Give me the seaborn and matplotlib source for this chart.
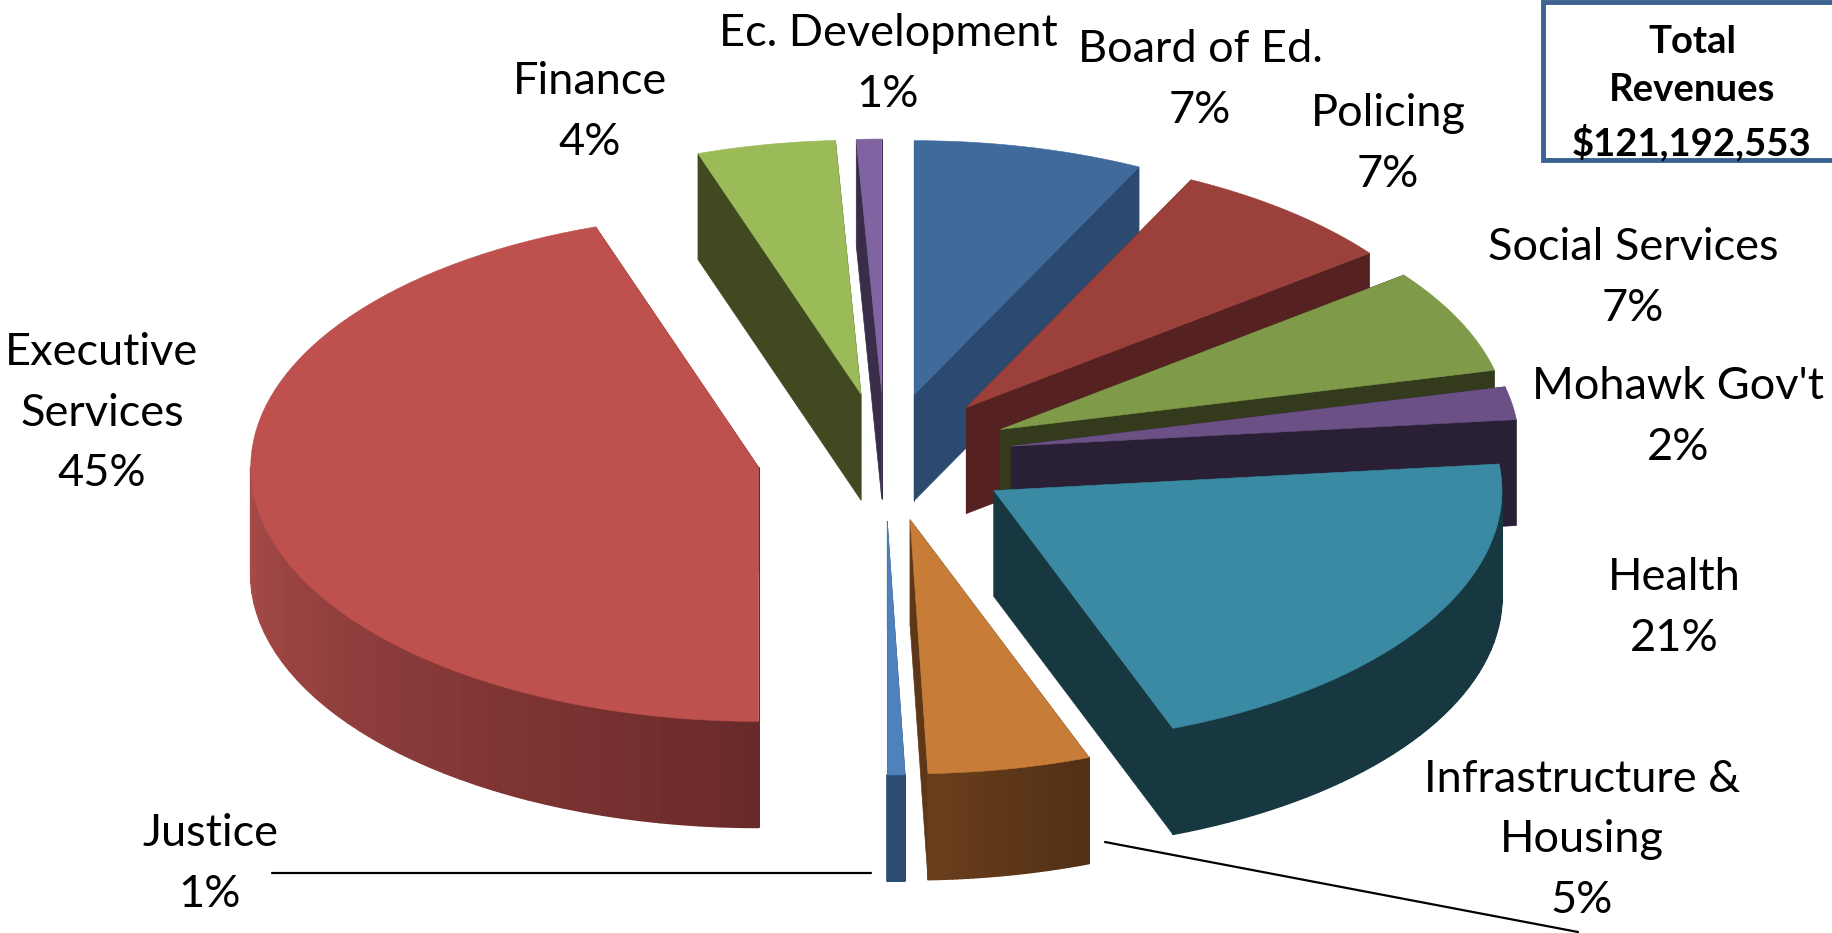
import numpy as np
import matplotlib
matplotlib.use('Agg')
import matplotlib.pyplot as plt
import seaborn as sns
from matplotlib.patches import Polygon, Rectangle

# shares in percent, clockwise from 12 o'clock
categories = ['Board of Ed.', 'Policing', 'Social Services', "Mohawk Gov't", 'Health',
              'Infrastructure &\nHousing', 'Justice', 'Executive\nServices', 'Finance', 'Ec. Development']
shares = [7.3, 7.3, 6.65, 2.08, 20.94, 5.17, 0.56, 44.8, 4.4, 0.8]
total_label = 'Total\nRevenues\n$121,192,553'

top_colors = ['#3F6A9B', '#9C403C', '#7F9A48', '#6A5084', '#3A8AA3',
              '#C77C37', '#4F81BD', '#BE504D', '#9BBB59', '#8064A2']
wall_colors = ['#2C4A70', '#562221', '#343A1C', '#2A2035', '#183841',
               '#5E3718', '#2A4A6F', '#6B2A2A', '#40491F', '#3A2D4A']
rim_left = ['#2C4A70', '#562221', '#343A1C', '#2A2035', '#183841',
            '#6A3E1C', '#2C4D75', '#A84C49', '#40491F', '#3A2D4A']
rim_right = ['#2C4A70', '#562221', '#343A1C', '#2A2035', '#183841',
             '#523015', '#2A4A6F', '#6B2A2A', '#40491F', '#3A2D4A']

# label centres in image pixels
label_x = [1200, 1388, 1633, 1678, 1674, 1582, 210, 102, 590, 888]
label_y = [80, 144, 278, 417, 608, 840, 864, 413, 112, 64]

# pie geometry in image pixels
CX, CY = 885, 457
RX, RY = 508, 254
DEPTH = 106
EXPLODE = 128

sns.set_theme(style='white')
plt.rcParams['font.family'] = ['Lato', 'DejaVu Sans']

fig, ax = plt.subplots(figsize=(18.33, 9.33), dpi=100)
fig.subplots_adjust(0, 0, 1, 1)
ax.set_xlim(0, 1833)
ax.set_ylim(933, 0)
ax.axis('off')


def outer(apex, deg, dz=0):
    a = np.radians(deg)
    return apex[0] + RX * np.sin(a), apex[1] - RY * np.cos(a) + dz


edges = np.cumsum([0] + shares) * 3.6
slices = []
for i, s in enumerate(shares):
    a0, a1 = edges[i], edges[i + 1]
    mid = np.radians((a0 + a1) / 2)
    apex = (CX + EXPLODE * np.sin(mid), CY - EXPLODE * RY / RX * np.cos(mid))
    slices.append((apex[1], i, a0, a1, apex))

# back slices first so the nearer ones paint over them
for _, i, a0, a1, apex in sorted(slices, key=lambda t: t[0]):
    wall = wall_colors[i]
    for deg in (a0, a1):
        p = outer(apex, deg)
        pts = [apex, p, (p[0], p[1] + DEPTH), (apex[0], apex[1] + DEPTH)]
        ax.add_patch(Polygon(pts, closed=True, fc=wall, ec=wall, lw=0.5))
    lo, hi = max(a0, 90), min(a1, 270)
    if hi > lo:
        steps = np.linspace(lo, hi, 41)
        shades = sns.blend_palette([rim_right[i], rim_left[i]], 40)
        for k in range(40):
            arc = np.linspace(steps[k], steps[k + 1], 4)
            up = [outer(apex, d) for d in arc]
            down = [outer(apex, d, DEPTH) for d in arc[::-1]]
            ax.add_patch(Polygon(up + down, closed=True, fc=shades[k], ec=shades[k], lw=1.2,
                                 joinstyle='round'))
    arc = np.linspace(a0, a1, 80)
    ax.add_patch(Polygon([apex] + [outer(apex, d) for d in arc], closed=True,
                         fc=top_colors[i], ec=top_colors[i], lw=0.4))

for name, s, x, y in zip(categories, shares, label_x, label_y):
    ax.text(x, y, f'{name}\n{round(s)}%', ha='center', va='center',
            fontsize=32.5, color='black', linespacing=1.6)

# leader lines
ax.plot([272, 871], [873, 873], color='black', lw=1.6)
ax.plot([1105, 1578], [842, 932], color='black', lw=1.6)

# total box, runs off the right edge
ax.add_patch(Rectangle((1543, 2), 320, 158, fc='white', ec='#3B6291', lw=3.5))
ax.text(1692, 93, total_label, ha='center', va='center', fontsize=27.5, fontweight='bold',
        color='black', linespacing=1.52)

fig.savefig('out.png', dpi=100)
